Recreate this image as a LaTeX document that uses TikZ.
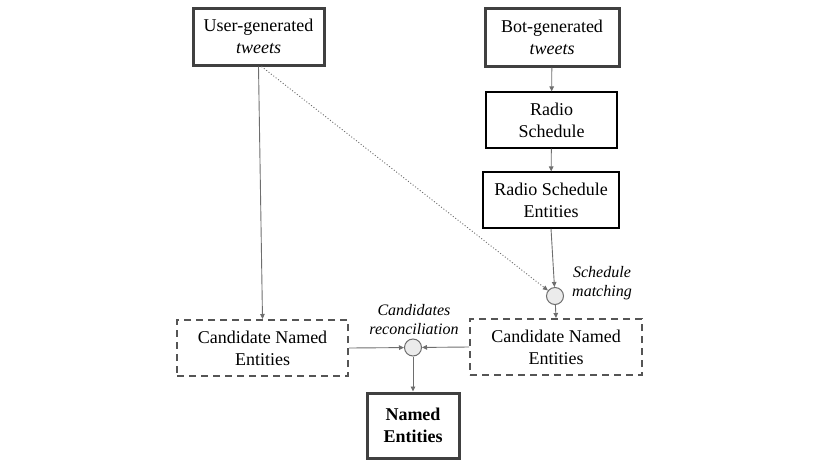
\documentclass[tikz,border=0pt]{standalone}
\usepackage{fontspec}
\setmainfont{Liberation Serif}
\usetikzlibrary{arrows.meta}
\definecolor{boxdark}{HTML}{404040}
\definecolor{dashgray}{HTML}{555555}
\definecolor{arrgray}{HTML}{6E6E6E}
\definecolor{circfill}{HTML}{EBEBEB}
\begin{document}
\begin{tikzpicture}[x=1pt,y=-1pt,
  txt/.style={font=\fontsize{18}{22}\selectfont, align=center, inner sep=0pt},
  thickbox/.style={txt, draw=boxdark, line width=3pt},
  thinbox/.style={txt, draw=black, line width=1.1pt},
  dashbox/.style={txt, draw=dashgray, line width=2pt, dash pattern=on 7pt off 5pt},
  junction/.style={circle, draw=arrgray, fill=circfill, line width=1pt, minimum size=17pt, inner sep=0pt},
  lbl/.style={font=\fontsize{16}{19}\selectfont\itshape, align=center, inner sep=0pt},
  conn/.style={draw=arrgray, line width=0.9pt, -{Triangle[length=5pt,width=4.5pt]}},
  dotconn/.style={conn, dash pattern=on 1pt off 2pt}
]
\useasboundingbox (0,0) rectangle (830,467);
\node[thickbox, minimum width=131pt, minimum height=57pt] (user) at (258.5,36.5) {User-generated\\\textit{tweets}};
\node[thickbox, minimum width=134pt, minimum height=58pt] (bot) at (552,37) {Bot-generated\\\textit{tweets}};
\node[thinbox, minimum width=131pt, minimum height=56pt] (radio) at (551.5,120) {Radio\\Schedule};
\node[thinbox, minimum width=136pt, minimum height=56pt] (rse) at (551,200) {Radio Schedule\\Entities};
\node[junction] (sm) at (555,296) {};
\node[dashbox, minimum width=172pt, minimum height=56pt] (cand2) at (556,347) {Candidate Named\\Entities};
\node[dashbox, minimum width=171pt, minimum height=56pt] (cand1) at (262.5,348) {Candidate Named\\Entities};
\node[junction] (cr) at (413,347.5) {};
\node[thickbox, minimum width=92pt, minimum height=65pt, font=\fontsize{18}{22}\selectfont\bfseries] (named) at (413,425.5) {Named\\Entities};
\node[lbl] (smlbl) at (602,283) {Schedule\\matching};
\node[lbl] (crlbl) at (414,320) {Candidates\\reconciliation};
\draw[conn] (bot) -- (radio);
\draw[conn] (radio) -- (rse);
\draw[conn] (rse.south) -- (sm);
\draw[conn] (sm) -- (cand2.north);
\draw[conn] (user.south) -- (cand1.north);
\draw[dotconn] ([xshift=3pt]user.south) -- (sm);
\draw[conn] (cand1.east) -- (cr);
\draw[conn] (cand2.west) -- (cr);
\draw[conn] (cr) -- (named.north);
\end{tikzpicture}
\end{document}
